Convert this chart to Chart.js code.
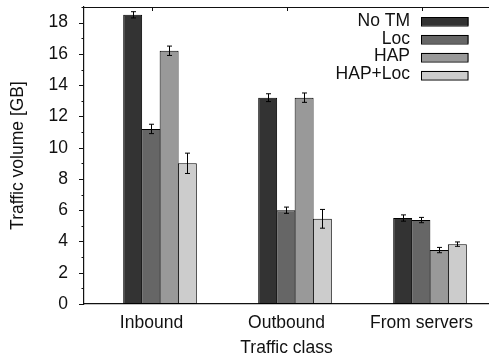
<!DOCTYPE html>
<html>
<head>
<meta charset="utf-8">
<script src="https://cdn.jsdelivr.net/npm/chart.js@4/dist/chart.umd.min.js"></script>
<style>
  html, body { margin: 0; padding: 0; background: #fff; }
  #wrap { width: 489px; height: 361px; }
</style>
</head>
<body>
<div id="wrap"><canvas id="trafficChart" width="489" height="361"></canvas></div>
<script>
// data
const categories = ["Inbound", "Outbound", "From servers"];
const seriesNames = ["No TM", "Loc", "HAP", "HAP+Loc"];
const noTm = [18.5, 13.2, 5.5];
const noTmErr = [0.2, 0.25, 0.2];
const loc = [11.2, 6.0, 5.37];
const locErr = [0.3, 0.2, 0.17];
const hap = [16.2, 13.2, 3.45];
const hapErr = [0.3, 0.3, 0.17];
const hapLoc = [9.0, 5.45, 3.83];
const hapLocErr = [0.65, 0.6, 0.14];
const yTicks = [0, 2, 4, 6, 8, 10, 12, 14, 16, 18];

const colors = ["#333333", "#666666", "#999999", "#cccccc"];
const FONT = "'Liberation Sans', Arial, sans-serif";
const TEXT = "#111";

// gnuplot puts the category tick on the second bar, not the group centre
const barW = 0.135;
const firstOffset = -0.207 + barW / 2;

const values = [noTm, loc, hap, hapLoc];
const errors = [noTmErr, locErr, hapErr, hapLocErr];

const datasets = values.map((vals, k) => ({
  label: seriesNames[k],
  data: vals.map((v, i) => ({ x: i + firstOffset + k * barW, y: v })),
  errors: errors[k],
  backgroundColor: colors[k],
  borderColor: "#000",
  borderWidth: 1,
  borderSkipped: false,
  grouped: false,
  categoryPercentage: 1,
  barPercentage: 1.04,
}));

// error bars, top frame line, axis ticks and the legend box
const decorations = {
  id: "decorations",
  afterDatasetsDraw(chart) {
    const ctx = chart.ctx;
    const y = chart.scales.y;
    ctx.save();
    ctx.strokeStyle = "#000";
    ctx.lineWidth = 1;
    chart.data.datasets.forEach((ds, k) => {
      const meta = chart.getDatasetMeta(k);
      meta.data.forEach((bar, j) => {
        const v = ds.data[j].y;
        const e = ds.errors[j];
        const x = Math.round(bar.x) + 0.5;
        const top = y.getPixelForValue(v + e);
        const bot = y.getPixelForValue(v - e);
        ctx.beginPath();
        ctx.moveTo(x, top);
        ctx.lineTo(x, bot);
        ctx.moveTo(x - 2.5, top);
        ctx.lineTo(x + 2.5, top);
        ctx.moveTo(x - 2.5, bot);
        ctx.lineTo(x + 2.5, bot);
        ctx.stroke();
      });
    });
    ctx.restore();
  },
  afterDraw(chart) {
    const ctx = chart.ctx;
    const area = chart.chartArea;
    const x = chart.scales.x;
    const y = chart.scales.y;
    ctx.save();
    ctx.strokeStyle = "#111";
    ctx.lineWidth = 1.2;
    // top frame
    ctx.beginPath();
    ctx.moveTo(area.left, area.top + 0.5);
    ctx.lineTo(area.right, area.top + 0.5);
    ctx.stroke();
    // top ticks at categories
    ctx.lineWidth = 1;
    categories.forEach((c, i) => {
      const px = Math.round(x.getPixelForValue(i)) + 0.5;
      ctx.beginPath();
      ctx.moveTo(px, area.top);
      ctx.lineTo(px, area.top + 4);
      ctx.stroke();
    });
    // left ticks, major and minor
    for (let v = 0; v <= 19; v++) {
      const py = Math.round(y.getPixelForValue(v)) + 0.5;
      const len = v % 2 === 0 ? 5 : 2.5;
      ctx.beginPath();
      ctx.moveTo(area.left - len, py);
      ctx.lineTo(area.left, py);
      ctx.stroke();
    }
    // legend
    ctx.font = "17.5px " + FONT;
    ctx.fillStyle = TEXT;
    ctx.textAlign = "right";
    ctx.textBaseline = "middle";
    const boxRight = area.right - 20.5;
    const boxW = 47.5;
    const boxH = 8.5;
    chart.data.datasets.forEach((ds, k) => {
      const cy = area.top + 14.3 + k * 17.9;
      ctx.fillStyle = TEXT;
      ctx.fillText(ds.label, boxRight - boxW - 11, cy - 0.5);
      ctx.fillStyle = ds.backgroundColor;
      ctx.fillRect(boxRight - boxW, cy - boxH / 2, boxW, boxH);
      ctx.strokeStyle = "#000";
      ctx.strokeRect(boxRight - boxW + 0.5, Math.round(cy - boxH / 2) + 0.5, boxW - 1, boxH);
    });
    ctx.restore();
  },
};

new Chart(document.getElementById("trafficChart").getContext("2d"), {
  type: "bar",
  data: { datasets: datasets },
  options: {
    responsive: false,
    animation: false,
    layout: { padding: { top: 7, right: 0, left: 0, bottom: 0 } },
    plugins: {
      legend: { display: false },
      tooltip: { enabled: false },
    },
    scales: {
      x: {
        type: "linear",
        offset: false,
        min: -0.5,
        max: 2.5,
        afterBuildTicks: (scale) => {
          scale.ticks = categories.map((c, i) => ({ value: i }));
        },
        afterFit: (scale) => {
          scale.height = 57;
          scale.paddingLeft = 0;
          scale.paddingRight = 0;
        },
        grid: { display: false, drawTicks: false, offset: false },
        border: { display: true, color: "#111", width: 1.2 },
        ticks: {
          autoSkip: false,
          maxRotation: 0,
          padding: 9,
          color: TEXT,
          font: { family: FONT, size: 17.5 },
          callback: (v) => categories[v],
        },
        title: {
          display: true,
          text: "Traffic class",
          color: TEXT,
          font: { family: FONT, size: 17.5, lineHeight: 1.2 },
          padding: { top: 0, bottom: 2.5 },
        },
      },
      y: {
        min: 0,
        max: 19,
        afterBuildTicks: (scale) => {
          scale.ticks = yTicks.map((v) => ({ value: v }));
        },
        afterFit: (scale) => {
          scale.width = 84;
          scale.paddingTop = 0;
          scale.paddingBottom = 0;
        },
        grid: { display: false, drawTicks: false },
        border: { display: true, color: "#111", width: 1.2 },
        ticks: {
          autoSkip: false,
          padding: 16,
          color: TEXT,
          font: { family: FONT, size: 17.5 },
        },
        title: {
          display: true,
          text: "Traffic volume [GB]",
          color: TEXT,
          font: { family: FONT, size: 17.5, lineHeight: 1.2 },
          padding: { top: 7.5, bottom: 0 },
        },
      },
    },
  },
  plugins: [decorations],
});
</script>
</body>
</html>
